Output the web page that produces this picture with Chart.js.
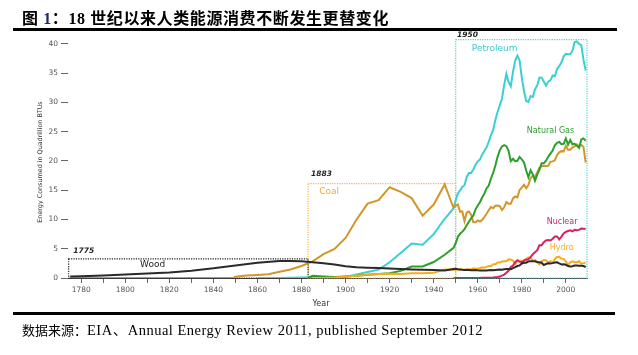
<!DOCTYPE html>
<html><head><meta charset="utf-8">
<script src="https://cdn.jsdelivr.net/npm/chart.js@4"></script>
<style>
html,body{margin:0;padding:0;background:#fff;width:638px;height:355px;overflow:hidden;}
#wrap{position:relative;width:638px;height:355px;}
#title{position:absolute;left:22px;top:5px;font:bold 16px "Liberation Serif","Noto Sans CJK SC";letter-spacing:0.6px;color:#000;white-space:nowrap;z-index:2}
#title .n{color:#1a2a6c}
#topline{position:absolute;left:13px;top:28px;width:604px;height:3px;background:#000}
#botline{position:absolute;left:13px;top:312px;width:602px;height:2.5px;background:#000}
#source{position:absolute;left:22px;top:318px;font:13px "Liberation Serif","Noto Sans CJK SC";color:#000;white-space:nowrap}
#source .lat{font-size:14.5px;letter-spacing:0.5px}
#c{position:absolute;left:0;top:0}
</style></head>
<body><div id="wrap">
<div id="title">图 <span class="n">1</span>：18 世纪以来人类能源消费不断发生更替变化</div>
<div id="topline"></div>
<canvas id="c" width="638" height="355"></canvas>
<div id="botline"></div>
<div id="source">数据来源：<span class="lat">EIA、Annual Energy Review 2011, published September 2012</span></div>
</div>
<script>
// ---- data ----
const annualYears = [];
for (let yr = 1949; yr <= 2009; yr++) annualYears.push(yr);

const woodEarlyYears = [1775,1780,1790,1800,1810,1820,1830,1840,1850,1860,1870,1875,1880,1885,1890,1895,1900,1905,1910,1915,1920,1925,1930,1935,1940,1945];
const woodEarly = [0.25,0.3,0.42,0.6,0.75,0.95,1.25,1.65,2.15,2.6,2.9,2.92,2.85,2.68,2.52,2.31,2.02,1.84,1.77,1.69,1.61,1.53,1.46,1.40,1.36,1.30];
const woodAnnual = [1.55,1.56,1.5,1.45,1.4,1.38,1.42,1.38,1.32,1.33,1.35,1.32,1.3,1.3,1.28,1.3,1.33,1.35,1.32,1.38,1.42,1.43,1.42,1.48,1.53,1.54,1.5,1.7,1.85,2.05,2.15,2.48,2.6,2.62,2.83,2.88,2.86,2.84,2.72,2.7,2.6,2.22,2.38,2.5,2.46,2.54,2.63,2.68,2.48,2.31,2.35,2.26,2.04,1.98,2.0,2.12,2.14,2.11,2.1,2.04,1.88];

const coalEarlyYears = [1775,1849,1850,1855,1860,1865,1870,1875,1880,1885,1890,1895,1900,1905,1910,1915,1920,1925,1930,1935,1940,1945];
const coalEarly = [0,0,0.22,0.42,0.52,0.63,1.05,1.44,2.05,2.84,4.06,4.95,6.84,10.0,12.71,13.29,15.50,14.71,13.64,10.63,12.54,15.97];
const coalAnnual = [11.98,12.35,12.55,11.31,11.37,9.71,11.17,11.35,10.82,9.53,9.52,9.84,9.62,9.91,10.41,10.96,11.58,12.14,11.91,12.33,12.38,12.27,11.60,12.08,12.97,12.66,12.66,13.58,13.92,13.77,15.04,15.42,15.91,15.32,15.89,17.07,17.48,17.26,18.01,18.85,19.07,19.17,19.12,19.16,19.84,19.91,20.09,21.00,21.45,21.66,21.62,22.58,21.91,21.90,22.32,22.47,22.80,22.45,22.75,22.39,19.69];

const petroEarlyYears = [1860,1870,1880,1890,1900,1905,1910,1915,1920,1925,1930,1935,1940,1945];
const petroEarly = [0,0.01,0.1,0.16,0.23,0.61,1.01,1.42,2.68,4.28,5.90,5.68,7.48,10.11];
const petroAnnual = [11.88,13.32,14.43,14.96,15.56,15.84,17.25,17.94,17.93,18.53,19.32,19.92,20.22,21.05,21.70,22.30,23.25,24.40,25.28,26.98,28.34,29.52,30.56,32.95,34.84,33.45,32.73,35.18,37.12,37.97,37.12,34.20,31.93,30.23,30.05,31.05,30.92,32.20,32.87,34.22,34.21,33.55,32.85,33.53,33.74,34.56,34.44,35.68,36.16,36.82,37.84,38.26,38.19,38.22,38.81,40.29,40.39,39.96,39.77,37.28,35.40];

const gasEarlyYears = [1883,1885,1890,1895,1900,1905,1910,1915,1920,1925,1930,1935,1940,1945];
const gasEarly = [0,0.37,0.26,0.15,0.25,0.37,0.54,0.67,0.82,1.21,1.97,1.97,2.73,3.97];
const gasAnnual = [5.15,5.97,7.05,7.55,7.91,8.33,9.00,9.61,10.19,10.66,11.72,12.39,12.93,13.73,14.40,15.29,15.77,16.99,17.94,19.21,20.68,21.79,22.47,22.70,22.51,21.73,19.95,20.35,19.93,20.00,20.67,20.24,19.74,18.36,17.20,18.39,17.70,16.59,17.64,18.45,19.60,19.60,20.03,20.71,21.23,21.73,22.67,23.09,23.22,22.83,22.91,23.82,22.77,23.56,22.83,22.91,22.56,22.22,23.66,23.84,23.42];

const nuclearAnnual = [0,0,0,0,0,0,0,0,0,0.002,0.002,0.006,0.02,0.026,0.038,0.04,0.043,0.064,0.088,0.142,0.154,0.239,0.413,0.584,0.910,1.272,1.900,2.111,2.702,3.024,2.776,2.739,3.008,3.131,3.203,3.553,4.076,4.380,4.754,5.587,5.602,6.104,6.422,6.479,6.410,6.694,7.075,7.087,6.597,7.068,7.610,7.862,8.029,8.145,7.959,8.222,8.161,8.215,8.455,8.427,8.356];

const hydroEarlyYears = [1885,1890,1895,1900,1905,1910,1915,1920,1925,1930,1935,1940,1945];
const hydroEarly = [0,0.02,0.09,0.25,0.39,0.54,0.70,0.74,0.70,0.79,0.83,0.88,1.44];
const hydroAnnual = [1.42,1.42,1.46,1.49,1.44,1.39,1.41,1.49,1.48,1.64,1.59,1.61,1.66,1.82,1.77,1.89,2.06,2.06,2.35,2.35,2.65,2.63,2.82,2.86,2.86,3.18,3.15,2.98,2.33,2.94,2.93,2.90,2.76,3.27,3.53,3.39,2.97,3.07,2.63,2.33,2.84,3.05,3.02,2.62,2.89,2.68,3.21,3.59,3.64,3.30,3.27,2.81,2.24,2.69,2.83,2.69,2.70,2.87,2.45,2.51,2.67];

const xTickYears = [1780,1790,1800,1810,1820,1830,1840,1850,1860,1870,1880,1890,1900,1910,1920,1930,1940,1950,1960,1970,1980,1990,2000];
const yTickValues = [0,5,10,15,20,25,30,35,40];

// ---- helpers ----
function pts(ey, ev, av) {
  const out = [];
  if (ey) ey.forEach((yr, i) => out.push({x: yr, y: ev[i]}));
  if (av) annualYears.forEach((yr, i) => out.push({x: yr, y: av[i]}));
  return out;
}
function ds(label, data, color) {
  return {label, data, borderColor: color, backgroundColor: color, borderWidth: 2,
          pointRadius: 0, tension: 0, fill: false};
}

const TXT = '"DejaVu Sans", Verdana, sans-serif';

const deco = {
  id: 'deco',
  beforeDatasetsDraw(chart) {
    const {ctx, scales: {x, y}} = chart;
    ctx.save();
    ctx.lineWidth = 1.2;
    ctx.setLineDash([1.2, 1.2]);
    const box = (x0, x1, top, col) => {
      ctx.strokeStyle = col;
      ctx.strokeRect(x.getPixelForValue(x0), y.getPixelForValue(top),
        x.getPixelForValue(x1) - x.getPixelForValue(x0), y.getPixelForValue(0) - y.getPixelForValue(top));
    };
    box(1950, 2009.6, 40.7, '#4fd3d6');
    box(1883, 1950, 16.1, '#f5b840');
    box(1774.3, 1883, 3.25, '#222');
    ctx.restore();
  },
  afterDraw(chart) {
    const {ctx, scales: {x, y}} = chart;
    ctx.save();
    const t = (s, xv, yv, font, col, align) => {
      ctx.font = font; ctx.fillStyle = col; ctx.textAlign = align || 'left'; ctx.textBaseline = 'alphabetic';
      ctx.fillText(s, x.getPixelForValue(xv), y.getPixelForValue(yv));
    };
    t('1775', 1776.4, 4.2, 'italic bold 7.5px ' + TXT, '#222');
    t('Wood', 1812.4, 1.9, '9px ' + TXT, '#222', 'center');
    t('1883', 1884.3, 17.5, 'italic bold 7.5px ' + TXT, '#222');
    t('Coal', 1888, 14.3, '9px ' + TXT, '#f2a935');
    t('1950', 1950.6, 41.1, 'italic bold 7.5px ' + TXT, '#222');
    t('Petroleum', 1957.3, 38.8, '9px ' + TXT, '#3cc8cc');
    t('Natural Gas', 1982.3, 24.8, '8px ' + TXT, '#2e9a2e');
    t('Nuclear', 1991.3, 9.3, '8px ' + TXT, '#c4266a');
    t('Hydro', 1992.7, 4.7, '8px ' + TXT, '#f5b020');
    // axis titles
    ctx.font = '8px ' + TXT; ctx.fillStyle = '#333'; ctx.textAlign = 'center';
    ctx.fillText('Year', 321, 306);
    ctx.translate(42, 162);
    ctx.rotate(-Math.PI / 2);
    ctx.font = '6.4px ' + TXT; ctx.fillStyle = '#333';
    ctx.fillText('Energy Consumed in Quadrillion BTUs', 0, 0);
    ctx.restore();
  }
};

new Chart(document.getElementById('c'), {
  type: 'line',
  data: {
    datasets: [
      ds('Wood', pts(woodEarlyYears, woodEarly, woodAnnual), '#2a2a2a'),
      ds('Nuclear', pts(null, null, nuclearAnnual), '#dc1f63'),
      ds('Hydro', pts(hydroEarlyYears, hydroEarly, hydroAnnual), '#f7ac1b'),
      ds('Natural Gas', pts(gasEarlyYears, gasEarly, gasAnnual), '#2ba02b'),
      ds('Coal', pts(coalEarlyYears, coalEarly, coalAnnual), '#d4952b'),
      ds('Petroleum', pts(petroEarlyYears, petroEarly, petroAnnual), '#3ccfd2')
    ]
  },
  options: {
    responsive: false, animation: false, devicePixelRatio: 1,
    layout: {padding: {left: 0, top: 32, right: 51, bottom: 47}},
    plugins: {legend: {display: false}, tooltip: {enabled: false}},
    scales: {
      x: {
        type: 'linear', min: 1774, max: 2009.6,
        afterBuildTicks: s => { s.ticks = xTickYears.map(v => ({value: v})); },
        afterFit: s => { s.height = 30; },
        ticks: {callback: v => (v % 20 === 0 ? String(v) : ''), autoSkip: false, maxRotation: 0,
                font: {family: TXT, size: 7.5}, color: '#555', padding: 3},
        grid: {drawOnChartArea: false, drawTicks: true, tickLength: 5, color: '#666'},
        border: {display: true, color: '#444', width: 1}
      },
      y: {
        min: 0, max: 42,
        afterBuildTicks: s => { s.ticks = yTickValues.map(v => ({value: v})); },
        afterFit: s => { s.width = 68; },
        ticks: {font: {family: TXT, size: 7.5}, color: '#555', padding: 3},
        grid: {drawOnChartArea: false, drawTicks: true, tickLength: 7, color: '#666'},
        border: {display: false}
      }
    }
  },
  plugins: [deco]
});
</script>
</body></html>
